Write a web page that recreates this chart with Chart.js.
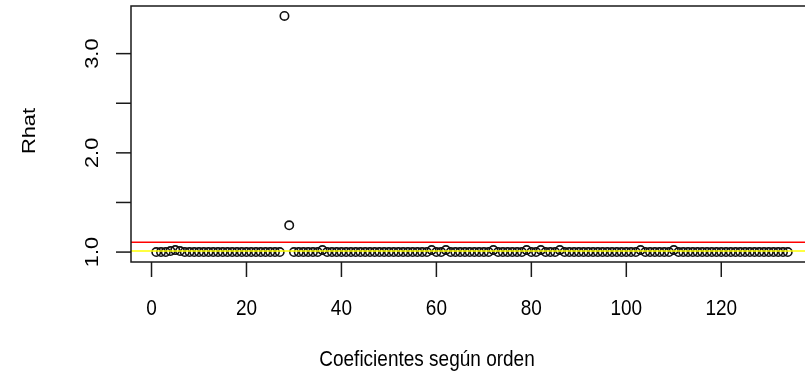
<!DOCTYPE html>
<html>
<head>
<meta charset="utf-8">
<script src="https://cdn.jsdelivr.net/npm/chart.js@4.4.1/dist/chart.umd.min.js"></script>
<style>
  html, body { margin: 0; padding: 0; background: #ffffff; overflow: hidden; }
  #wrap { width: 830px; height: 389px; }
</style>
</head>
<body>
<div id="wrap"><canvas id="c" width="830" height="389"></canvas></div>
<script>
// Rhat per coefficient, in coefficient order (index 1..134)
const rhat = [
  1.00, 1.00, 1.00, 1.01, 1.02, 1.01, 1.00, 1.00, 1.00, 1.00,
  1.00, 1.00, 1.00, 1.00, 1.00, 1.00, 1.00, 1.00, 1.00, 1.00,
  1.00, 1.00, 1.00, 1.00, 1.00, 1.00, 1.00, 3.38, 1.27, 1.00,
  1.00, 1.00, 1.00, 1.00, 1.00, 1.02, 1.00, 1.00, 1.00, 1.00,
  1.00, 1.00, 1.00, 1.00, 1.00, 1.00, 1.00, 1.00, 1.00, 1.00,
  1.00, 1.00, 1.00, 1.00, 1.00, 1.00, 1.00, 1.00, 1.02, 1.00,
  1.00, 1.02, 1.00, 1.00, 1.00, 1.00, 1.00, 1.00, 1.00, 1.00,
  1.00, 1.02, 1.00, 1.00, 1.00, 1.00, 1.00, 1.00, 1.02, 1.00,
  1.00, 1.02, 1.00, 1.00, 1.00, 1.02, 1.00, 1.00, 1.00, 1.00,
  1.00, 1.00, 1.00, 1.00, 1.00, 1.00, 1.00, 1.00, 1.00, 1.00,
  1.00, 1.00, 1.02, 1.00, 1.00, 1.00, 1.00, 1.00, 1.00, 1.02,
  1.00, 1.00, 1.00, 1.00, 1.00, 1.00, 1.00, 1.00, 1.00, 1.00,
  1.00, 1.00, 1.00, 1.00, 1.00, 1.00, 1.00, 1.00, 1.00, 1.00,
  1.00, 1.00, 1.00, 1.00
];
const coefIndex = rhat.map((_, i) => i + 1);

// Reference lines: red at 1.1, yellow at 1.01
const refLevels = [1.1, 1.01];
const refColors = ['#ff0000', '#ffff00'];

// Axis ticks and the labels shown on them
const xTicks = [0, 20, 40, 60, 80, 100, 120];
const yTicks = [1.0, 1.5, 2.0, 2.5, 3.0];
const yTickLabels = ['1.0', '', '2.0', '', '3.0'];

const xTitle = 'Coeficientes según orden';
const yTitle = 'Rhat';

const FONT = '19px "Liberation Sans", Arial, sans-serif';
const TEXT_STRETCH = 1.15; // glyphs drawn slightly taller than wide

// text drawn with its glyphs stretched across the reading direction
function drawText(ctx, str, px, py, rotated) {
  ctx.save();
  ctx.translate(px, py);
  if (rotated) {
    ctx.rotate(-Math.PI / 2);
    ctx.scale(TEXT_STRETCH, 1);
  } else {
    ctx.scale(1, TEXT_STRETCH);
  }
  ctx.fillText(str, 0, 0);
  ctx.restore();
}

// Base-graphics style frame, axes, labels and reference lines
const basePlot = {
  id: 'basePlot',
  afterDatasetsDraw(chart) {
    const { ctx, chartArea: a, scales: { x, y } } = chart;
    ctx.save();
    // reference lines over the points, clipped to the plot region
    ctx.save();
    ctx.beginPath();
    ctx.rect(a.left, a.top, a.right - a.left, a.bottom - a.top);
    ctx.clip();
    ctx.lineWidth = 1.5;
    refLevels.forEach((v, i) => {
      const py = y.getPixelForValue(v);
      ctx.strokeStyle = refColors[i];
      ctx.beginPath();
      ctx.moveTo(a.left, py);
      ctx.lineTo(a.right, py);
      ctx.stroke();
    });
    ctx.restore();

    // frame
    ctx.strokeStyle = '#1a1a1a';
    ctx.lineWidth = 1.5;
    ctx.strokeRect(a.left, a.top, a.right - a.left, a.bottom - a.top);

    // x axis ticks + labels
    ctx.fillStyle = '#000';
    ctx.font = FONT;
    ctx.textAlign = 'center';
    ctx.textBaseline = 'alphabetic';
    xTicks.forEach(v => {
      const px = x.getPixelForValue(v);
      ctx.beginPath();
      ctx.moveTo(px, a.bottom);
      ctx.lineTo(px, a.bottom + 15);
      ctx.stroke();
      drawText(ctx, String(v), px, 315, false);
    });

    // y axis ticks + rotated labels
    yTicks.forEach((v, i) => {
      const py = y.getPixelForValue(v);
      ctx.beginPath();
      ctx.moveTo(a.left, py);
      ctx.lineTo(a.left - 15, py);
      ctx.stroke();
      if (yTickLabels[i]) drawText(ctx, yTickLabels[i], 98, py, true);
    });

    // axis titles
    drawText(ctx, xTitle, 427, 366, false);
    drawText(ctx, yTitle, 35, 131, true);
    ctx.restore();
  }
};

new Chart(document.getElementById('c'), {
  type: 'scatter',
  data: {
    datasets: [{
      data: coefIndex.map((k, i) => ({ x: k, y: rhat[i] })),
      pointStyle: 'circle',
      pointRadius: 4.2,
      pointHoverRadius: 4.2,
      borderColor: '#111',
      borderWidth: 1.6,
      backgroundColor: 'rgba(0,0,0,0)'
    }]
  },
  options: {
    responsive: false,
    animation: false,
    devicePixelRatio: 1,
    events: [],
    layout: { padding: { left: 131, top: 6, right: 17, bottom: 127 } },
    plugins: { legend: { display: false }, tooltip: { enabled: false } },
    scales: {
      x: { type: 'linear', min: -4.32, max: 139.32, display: false },
      y: { type: 'linear', min: 0.9, max: 3.48, display: false }
    }
  },
  plugins: [basePlot]
});
</script>
</body>
</html>
